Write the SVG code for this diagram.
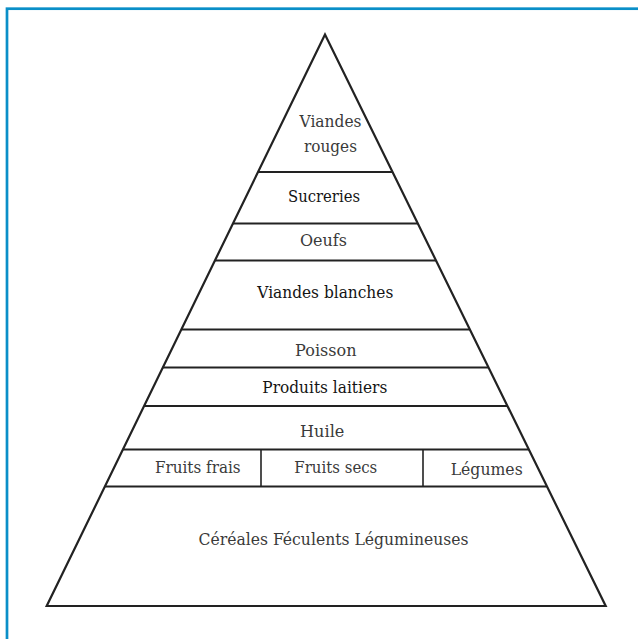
<svg xmlns="http://www.w3.org/2000/svg" width="638" height="639" viewBox="0 0 638 639">
<style>
.frame{fill:none;stroke:#0a8fc8;stroke-width:2.7}
.edge{fill:none;stroke:#222;stroke-width:2.2;stroke-linejoin:miter}
.sep{stroke:#222;stroke-width:2.2}
.div{stroke:#222;stroke-width:1.6}
.dark{fill:#141414}
</style>
<rect width="638" height="639" fill="#ffffff"/>
<rect class="frame" x="7" y="8.7" width="640" height="650"/>
<g id="connectors">
<polygon class="edge" points="325,34.5 46.7,606 605.7,606"/>
<line class="sep" x1="258.1" y1="172" x2="392.5" y2="172"/>
<line class="sep" x1="233" y1="223.5" x2="417.8" y2="223.5"/>
<line class="sep" x1="215" y1="260.5" x2="436" y2="260.5"/>
<line class="sep" x1="181.4" y1="329.5" x2="469.8" y2="329.5"/>
<line class="sep" x1="162.9" y1="367.5" x2="488.4" y2="367.5"/>
<line class="sep" x1="144.1" y1="406" x2="507.3" y2="406"/>
<line class="sep" x1="122.9" y1="449.5" x2="528.7" y2="449.5"/>
<line class="sep" x1="104.9" y1="486.5" x2="546.9" y2="486.5"/>
<line class="div" x1="261" y1="449.5" x2="261" y2="486.5"/>
<line class="div" x1="423" y1="449.5" x2="423" y2="486.5"/>
</g>
<g font-family="DejaVu Serif, serif" font-size="17.4" fill="#3a3a3a" text-anchor="middle">
<g id="viandes-rouges"><text x="330.5" y="127.3" textLength="62" lengthAdjust="spacingAndGlyphs">Viandes</text><text x="330.5" y="151.7" textLength="53" lengthAdjust="spacingAndGlyphs">rouges</text></g>
<g id="sucreries"><text class="dark" x="324" y="201.7" textLength="72" lengthAdjust="spacingAndGlyphs">Sucreries</text></g>
<g id="oeufs"><text x="323.5" y="246" textLength="47" lengthAdjust="spacingAndGlyphs">Oeufs</text></g>
<g id="viandes-blanches"><text class="dark" x="325.3" y="297.7" textLength="136" lengthAdjust="spacingAndGlyphs">Viandes blanches</text></g>
<g id="poisson"><text x="325.8" y="356" textLength="61.5" lengthAdjust="spacingAndGlyphs">Poisson</text></g>
<g id="produits-laitiers"><text class="dark" x="324.8" y="392.7" textLength="125" lengthAdjust="spacingAndGlyphs">Produits laitiers</text></g>
<g id="huile"><text x="322.2" y="437.3" textLength="44.3" lengthAdjust="spacingAndGlyphs">Huile</text></g>
<g id="fruits-frais"><text x="197.8" y="472.7" textLength="85.7" lengthAdjust="spacingAndGlyphs">Fruits frais</text></g>
<g id="fruits-secs"><text x="335.8" y="472.7" textLength="83" lengthAdjust="spacingAndGlyphs">Fruits secs</text></g>
<g id="legumes"><text x="486.7" y="475" textLength="72" lengthAdjust="spacingAndGlyphs">Légumes</text></g>
<g id="cereales"><text x="333.5" y="545" textLength="270" lengthAdjust="spacingAndGlyphs">Céréales Féculents Légumineuses</text></g>
</g>
</svg>
